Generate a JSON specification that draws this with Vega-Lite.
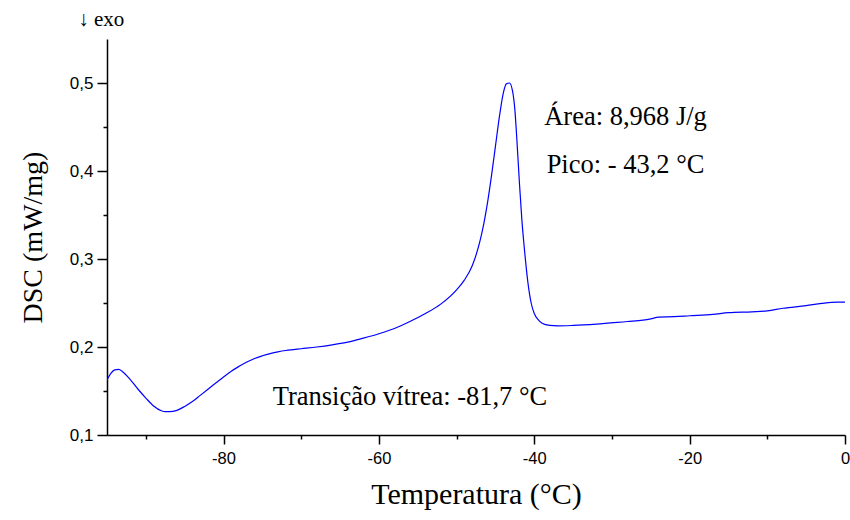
{
  "$schema": "https://vega.github.io/schema/vega-lite/v6.json",
  "autosize": {"type": "none"},
  "padding": {"left": 107, "top": 39, "right": 5, "bottom": 85},
  "width": 738,
  "height": 396,
  "background": "white",
  "config": {"view": {"stroke": null}},
  "datasets": {
    "dsc": [
      {"t": -95.0, "dsc": 0.1625}, {"t": -94.5, "dsc": 0.170}, {"t": -94.0, "dsc": 0.174}, {"t": -93.5, "dsc": 0.1745},
      {"t": -93.0, "dsc": 0.172}, {"t": -92.0, "dsc": 0.163}, {"t": -91.0, "dsc": 0.152}, {"t": -90.0, "dsc": 0.142},
      {"t": -89.0, "dsc": 0.133}, {"t": -88.0, "dsc": 0.1275}, {"t": -87.5, "dsc": 0.1265}, {"t": -87.0, "dsc": 0.1265},
      {"t": -86.0, "dsc": 0.128}, {"t": -85.0, "dsc": 0.1325}, {"t": -84.0, "dsc": 0.138}, {"t": -83.0, "dsc": 0.145},
      {"t": -82.0, "dsc": 0.152}, {"t": -81.0, "dsc": 0.159}, {"t": -80.0, "dsc": 0.166}, {"t": -79.0, "dsc": 0.1725},
      {"t": -78.0, "dsc": 0.178}, {"t": -77.0, "dsc": 0.183}, {"t": -76.0, "dsc": 0.187}, {"t": -75.0, "dsc": 0.190},
      {"t": -74.0, "dsc": 0.1925}, {"t": -73.0, "dsc": 0.1945}, {"t": -72.0, "dsc": 0.196}, {"t": -71.0, "dsc": 0.197},
      {"t": -70.0, "dsc": 0.198}, {"t": -68.0, "dsc": 0.200}, {"t": -66.0, "dsc": 0.2025}, {"t": -64.0, "dsc": 0.2055},
      {"t": -62.0, "dsc": 0.210}, {"t": -60.0, "dsc": 0.215}, {"t": -58.0, "dsc": 0.221}, {"t": -56.0, "dsc": 0.229},
      {"t": -54.0, "dsc": 0.238}, {"t": -52.0, "dsc": 0.249}, {"t": -50.0, "dsc": 0.265}, {"t": -49.0, "dsc": 0.276},
      {"t": -48.0, "dsc": 0.292}, {"t": -47.0, "dsc": 0.320}, {"t": -46.5, "dsc": 0.340}, {"t": -46.0, "dsc": 0.365},
      {"t": -45.5, "dsc": 0.395}, {"t": -45.0, "dsc": 0.428}, {"t": -44.5, "dsc": 0.461}, {"t": -44.0, "dsc": 0.488},
      {"t": -43.6, "dsc": 0.499}, {"t": -43.2, "dsc": 0.500}, {"t": -42.8, "dsc": 0.491}, {"t": -42.5, "dsc": 0.470},
      {"t": -42.2, "dsc": 0.430}, {"t": -41.9, "dsc": 0.385}, {"t": -41.6, "dsc": 0.345}, {"t": -41.2, "dsc": 0.305},
      {"t": -40.8, "dsc": 0.272}, {"t": -40.4, "dsc": 0.250}, {"t": -40.0, "dsc": 0.238}, {"t": -39.5, "dsc": 0.231},
      {"t": -39.0, "dsc": 0.227}, {"t": -38.0, "dsc": 0.2245}, {"t": -37.0, "dsc": 0.224}, {"t": -35.0, "dsc": 0.2245},
      {"t": -32.0, "dsc": 0.226}, {"t": -28.0, "dsc": 0.229}, {"t": -26.0, "dsc": 0.2305}, {"t": -25.0, "dsc": 0.232},
      {"t": -24.0, "dsc": 0.234}, {"t": -22.0, "dsc": 0.2345}, {"t": -20.0, "dsc": 0.2355}, {"t": -17.0, "dsc": 0.237},
      {"t": -15.0, "dsc": 0.239}, {"t": -12.0, "dsc": 0.240}, {"t": -10.0, "dsc": 0.241}, {"t": -8.0, "dsc": 0.244},
      {"t": -5.0, "dsc": 0.247}, {"t": -3.0, "dsc": 0.2495}, {"t": -1.0, "dsc": 0.251}, {"t": 0.0, "dsc": 0.251}
    ],
    "notes": [
      {"t": -28.25, "dsc": 0.4614, "label": "Área: 8,968 J/g"},
      {"t": -28.25, "dsc": 0.4068, "label": "Pico: - 43,2 °C"},
      {"t": -56.0, "dsc": 0.1432, "label": "Transição vítrea: -81,7 °C"}
    ],
    "exo": [
      {"t": -98.7, "dsc": 0.5716, "label": "↓ exo"}
    ]
  },
  "layer": [
    {
      "data": {"name": "dsc"},
      "mark": {"type": "line", "color": "#0000ff", "strokeWidth": 1.2, "interpolate": "monotone", "clip": true},
      "encoding": {
        "x": {
          "field": "t", "type": "quantitative",
          "scale": {"domain": [-95, 0], "nice": false, "zero": false},
          "axis": {
            "values": [-90, -80, -70, -60, -50, -40, -30, -20, -10, 0],
            "labelExpr": "datum.value % 20 === 0 ? '' + datum.value : ''",
            "tickSize": {"condition": {"test": "datum.value % 20 === 0", "value": 9}, "value": 4},
            "grid": false,
            "domainColor": "black", "domainWidth": 1.5,
            "tickColor": "black", "tickWidth": 1.5,
            "labelFont": "Liberation Sans", "labelFontSize": 16.5, "labelColor": "black", "labelPadding": 6,
            "labelFlush": false,
            "title": "Temperatura (°C)",
            "titleFont": "Liberation Serif", "titleFontSize": 30, "titleFontWeight": "normal", "titleColor": "black",
            "titlePadding": 13
          }
        },
        "y": {
          "field": "dsc", "type": "quantitative",
          "scale": {"domain": [0.1, 0.55], "nice": false, "zero": false},
          "axis": {
            "values": [0.1, 0.15, 0.2, 0.25, 0.3, 0.35, 0.4, 0.45, 0.5],
            "labelExpr": "abs(datum.value * 10 - round(datum.value * 10)) < 0.001 ? replace(format(datum.value, '.1f'), '.', ',') : ''",
            "tickSize": {"condition": {"test": "abs(datum.value * 10 - round(datum.value * 10)) < 0.001", "value": 10}, "value": 4},
            "grid": false,
            "domainColor": "black", "domainWidth": 1.5,
            "tickColor": "black", "tickWidth": 1.5,
            "labelFont": "Liberation Sans", "labelFontSize": 17, "labelColor": "black", "labelPadding": 4,
            "labelFlush": false,
            "title": "DSC (mW/mg)",
            "titleFont": "Liberation Serif", "titleFontSize": 28, "titleFontWeight": "normal", "titleColor": "black",
            "titlePadding": 22
          }
        }
      }
    },
    {
      "data": {"name": "notes"},
      "mark": {"type": "text", "font": "Liberation Serif", "fontSize": 26.5, "color": "black", "baseline": "middle", "align": "center"},
      "encoding": {
        "x": {"field": "t", "type": "quantitative"},
        "y": {"field": "dsc", "type": "quantitative"},
        "text": {"field": "label"}
      }
    },
    {
      "data": {"name": "exo"},
      "mark": {"type": "text", "font": "Liberation Serif", "fontSize": 21, "color": "black", "baseline": "middle", "align": "left"},
      "encoding": {
        "x": {"field": "t", "type": "quantitative"},
        "y": {"field": "dsc", "type": "quantitative"},
        "text": {"field": "label"}
      }
    }
  ]
}
